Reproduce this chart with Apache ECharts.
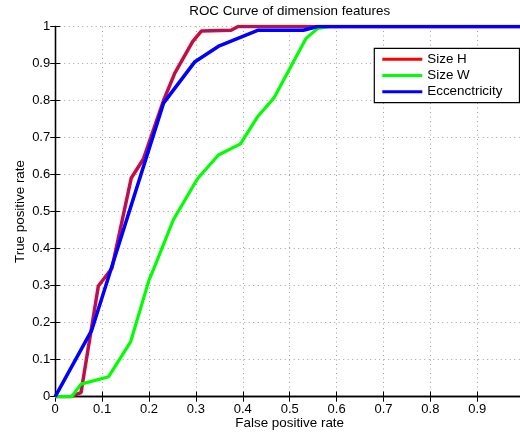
<!DOCTYPE html>
<html>
<head>
<meta charset="utf-8">
<script src="https://cdn.jsdelivr.net/npm/echarts@6/dist/echarts.min.js"></script>
<style>html,body{margin:0;padding:0;background:#fff;overflow:hidden}#c{width:520px;height:433px}</style>
</head>
<body>
<div id="c"></div>
<script>
const xTicks = [0, 0.1, 0.2, 0.3, 0.4, 0.5, 0.6, 0.7, 0.8, 0.9, 1];
const yTicks = [0, 0.1, 0.2, 0.3, 0.4, 0.5, 0.6, 0.7, 0.8, 0.9, 1];

const sizeH_fpr = [0, 0.033, 0.055, 0.092, 0.121, 0.162, 0.188, 0.231, 0.255, 0.293, 0.312, 0.375, 0.39, 1];
const sizeH_tpr = [0, 0, 0.011, 0.299, 0.347, 0.59, 0.642, 0.80, 0.874, 0.959, 0.988, 0.99, 1, 1];

const sizeW_fpr = [0, 0.035, 0.055, 0.114, 0.161, 0.2, 0.209, 0.252, 0.303, 0.348, 0.395, 0.432, 0.467, 0.535, 0.56, 0.585, 1];
const sizeW_tpr = [0, 0, 0.034, 0.054, 0.149, 0.315, 0.342, 0.478, 0.588, 0.653, 0.683, 0.757, 0.808, 0.968, 0.995, 1, 1];

const ecc_fpr = [0, 0.078, 0.231, 0.298, 0.35, 0.433, 0.529, 0.56, 1];
const ecc_tpr = [0, 0.18, 0.793, 0.905, 0.948, 0.99, 0.99, 1, 1];

const zip = (xs, ys) => xs.map((x, i) => [x, ys[i]]);
const FONT = 'Liberation Sans';
const LINE_ICON = 'path://M0,0 L40,0 L40,3 L0,3 Z';

const chart = echarts.init(document.getElementById('c'), null, {renderer: 'canvas'});
const gridLine = {show: true, lineStyle: {color: '#a0a0a0', type: [1, 3.5], width: 1}};
const axisBase = {
  type: 'value', min: 0, max: 1, interval: 0.1,
  axisLine: {show: true, lineStyle: {color: '#000', width: 1.3}},
  axisTick: {show: true, inside: true, length: 5, lineStyle: {color: '#000'}},
};
chart.setOption({
  animation: false,
  backgroundColor: '#fff',
  textStyle: {fontFamily: FONT},
  grid: {left: 55.2, top: 26.5, width: 469, height: 370.2, containLabel: false, outerBoundsMode: 'none'},
  xAxis: [
    Object.assign({}, axisBase, {
      position: 'bottom',
      splitLine: gridLine,
      axisLabel: {color: '#000', fontSize: 13, fontFamily: FONT, margin: 6,
        formatter: v => (v >= 0.999 ? '' : String(+v.toFixed(1)))}
    }),
    Object.assign({}, axisBase, {position: 'top', splitLine: {show: false}, axisLabel: {show: false}})
  ],
  yAxis: [
    Object.assign({}, axisBase, {
      position: 'left',
      splitLine: gridLine,
      axisLabel: {color: '#000', fontSize: 13, fontFamily: FONT, margin: 5,
        formatter: v => String(+v.toFixed(1))}
    }),
    Object.assign({}, axisBase, {position: 'right', splitLine: {show: false}, axisLabel: {show: false}})
  ],
  legend: {
    orient: 'vertical', left: 374.3, top: 48.3,
    data: [
      {name: 'Size H', icon: LINE_ICON, itemStyle: {color: '#ff0000'}},
      {name: 'Size W', icon: LINE_ICON, itemStyle: {color: '#00ff00'}},
      {name: 'Eccenctricity', icon: LINE_ICON, itemStyle: {color: '#0000ff'}}
    ],
    itemWidth: 40, itemHeight: 14, itemGap: 3.2,
    padding: [4.5, 17, 4.5, 8],
    borderColor: '#000', borderWidth: 1.2, backgroundColor: '#fff',
    textStyle: {fontSize: 13.4, color: '#000', fontFamily: FONT},
    selectedMode: false
  },
  graphic: [
    {type: 'text', x: 289.7, y: 11.5, style: {text: 'ROC Curve of dimension features', fontSize: 13.4, fontFamily: FONT, fill: '#000', align: 'center', verticalAlign: 'middle'}},
    {type: 'text', x: 289.7, y: 423.5, style: {text: 'False positive rate', fontSize: 13.4, fontFamily: FONT, fill: '#000', align: 'center', verticalAlign: 'middle'}},
    {type: 'text', x: 20, y: 211.5, rotation: Math.PI / 2, style: {text: 'True positive rate', fontSize: 13.4, fontFamily: FONT, fill: '#000', align: 'center', verticalAlign: 'middle'}}
  ],
  series: [
    {name: 'Size H', type: 'line', data: zip(sizeH_fpr, sizeH_tpr), symbol: 'none', showSymbol: false, lineStyle: {color: '#ff0000', width: 3.5}, itemStyle: {color: '#ff0000'}},
    {name: 'Size H inner', type: 'line', data: zip(sizeH_fpr, sizeH_tpr), symbol: 'none', showSymbol: false, lineStyle: {color: '#3030ff', width: 1}, itemStyle: {color: '#0000ff'}},
    {name: 'Size W', type: 'line', data: zip(sizeW_fpr, sizeW_tpr), symbol: 'none', showSymbol: false, lineStyle: {color: '#00ff00', width: 3.2}, itemStyle: {color: '#00ff00'}},
    {name: 'Eccenctricity', type: 'line', data: zip(ecc_fpr, ecc_tpr), symbol: 'none', showSymbol: false, lineStyle: {color: '#0000ff', width: 3.5}, itemStyle: {color: '#0000ff'}}
  ]
});
</script>
</body>
</html>
